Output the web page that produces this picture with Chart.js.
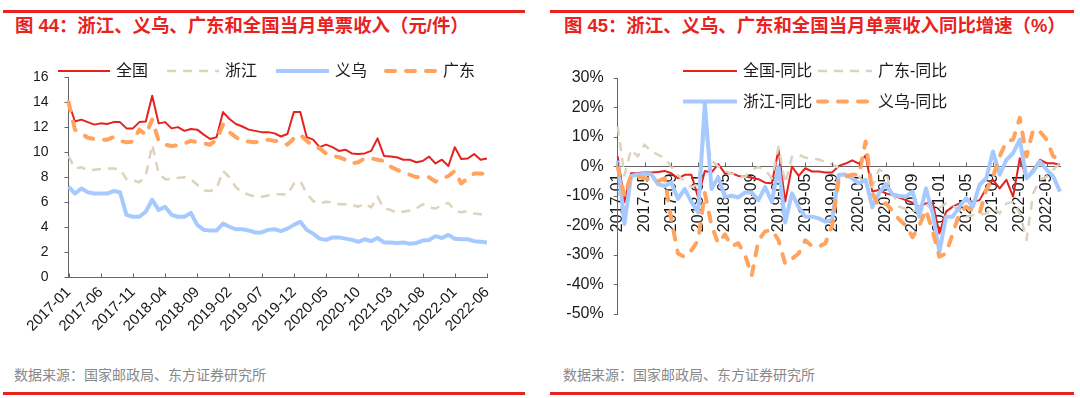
<!DOCTYPE html>
<html>
<head>
<meta charset="utf-8">
<script src="https://cdn.jsdelivr.net/npm/chart.js@4/dist/chart.umd.min.js"></script>
<style>
    html, body { margin: 0; padding: 0; background: #fff; }
    body { width: 1080px; height: 398px; position: relative; overflow: hidden;
        font-family: "Liberation Sans", "Noto Sans CJK SC", sans-serif; }
    .rule { position: absolute; height: 3px; background: #e8231f; }
    .title { position: absolute; top: 14px; line-height: 24px; font-size: 18.4px; font-weight: bold;
        color: #e8231f; white-space: nowrap; }
    .src { position: absolute; top: 365px; line-height: 20px; font-size: 14px; color: #888; white-space: nowrap; }
    canvas { position: absolute; top: 0; }
</style>
</head>
<body>
<div class="rule" style="left:3px;width:522px;top:10px"></div>
<div class="rule" style="left:3px;width:522px;top:392px"></div>
<div class="rule" style="left:550px;width:524px;top:10px"></div>
<div class="rule" style="left:550px;width:524px;top:392px"></div>
<div class="title" style="left:15px">图 44：浙江、义乌、广东和全国当月单票收入（元/件）</div>
<div class="title" style="left:564px">图 45：浙江、义乌、广东和全国当月单票收入同比增速（%）</div>
<div class="src" style="left:14px">数据来源：国家邮政局、东方证券研究所</div>
<div class="src" style="left:563px">数据来源：国家邮政局、东方证券研究所</div>
<canvas id="chartLeft" width="540" height="398" style="left:0"></canvas>
<canvas id="chartRight" width="540" height="398" style="left:540px"></canvas>
<script>
(() => {
    // months 2017-01 .. 2022-06 (left) and 2017-01 .. 2022-07 (right)
    const buildMonths = (count) => {
        const out = [];
        for (let i = 0; i < count; i++) {
            const y = 2017 + Math.floor(i / 12);
            const m = (i % 12) + 1;
            out.push(y + '-' + (m < 10 ? '0' + m : m));
        }
        return out;
    };
    const monthsLeft = buildMonths(66);
    const monthsRight = buildMonths(67);

    // 元/件
    const incomeNational = [14.0, 12.45, 12.6, 12.4, 12.2, 12.3, 12.25, 12.4, 12.4, 11.9,
        11.9, 12.4, 12.45, 14.5, 12.3, 12.4, 11.9, 12.0, 11.7, 11.85,
        11.8, 11.4, 11.05, 11.2, 13.2, 12.65, 12.25, 12.05, 11.8, 11.7,
        11.6, 11.6, 11.5, 11.25, 11.45, 13.2, 13.2, 11.2, 11.0, 10.4,
        10.6, 10.4, 10.1, 10.2, 9.9, 9.85, 9.9, 10.1, 11.1, 9.7,
        9.65, 9.6, 9.4, 9.4, 9.2, 9.3, 9.65, 9.1, 9.4, 8.9,
        10.4, 9.45, 9.5, 9.85, 9.4, 9.5];
    const incomeZhejiang = [9.7, 8.7, 8.8, 8.55, 8.6, 8.65, 8.7, 8.7, 8.65, 7.85,
        7.75, 7.6, 8.1, 10.6, 8.3, 7.85, 7.85, 7.95, 8.0, 7.85,
        7.4, 6.95, 6.9, 7.1, 8.5, 8.0, 7.2, 6.8, 6.6, 6.45,
        6.45, 6.55, 6.65, 6.65, 6.6, 7.5, 7.7, 6.7, 6.1, 5.9,
        6.05, 6.0, 5.85, 5.85, 5.8, 5.65, 5.9, 5.6, 6.45, 5.5,
        5.4, 5.15, 5.25, 5.35, 5.5, 5.85, 5.6, 5.5, 5.8, 5.95,
        5.35, 5.2, 5.3, 5.1, 5.05, 5.05];
    const incomeYiwu = [7.25, 6.7, 7.1, 6.8, 6.7, 6.7, 6.7, 6.9, 6.8, 5.0,
        4.85, 4.85, 5.25, 6.2, 5.4, 5.65, 5.0, 4.85, 4.85, 5.15,
        4.2, 3.8, 3.75, 3.75, 4.3, 4.05, 3.85, 3.85, 3.75, 3.6,
        3.6, 3.8, 3.85, 3.7, 3.9, 4.2, 4.45, 3.8, 3.5, 3.1,
        3.0, 3.2, 3.2, 3.1, 3.0, 2.85, 3.05, 2.9, 3.15, 2.8,
        2.8, 2.75, 2.8, 2.7, 2.75, 2.95, 3.0, 3.3, 3.15, 3.4,
        3.1, 3.05, 3.05, 2.9, 2.85, 2.8];
    const incomeGuangdong = [14.0, 11.8, 11.5, 11.15, 11.05, 11.0, 11.0, 11.2, 10.9, 10.8,
        10.85, 11.8, 11.4, 12.6, 10.9, 10.6, 10.5, 10.55, 10.7, 10.9,
        10.8, 10.7, 10.6, 11.0, 12.2, 11.6, 11.2, 10.9, 10.85, 10.8,
        10.85, 11.0, 10.9, 10.85, 10.6, 11.1, 11.4, 10.9, 10.5, 10.3,
        9.9, 9.7, 9.6, 9.4, 9.1, 9.2, 9.5, 9.5, 9.4, 9.3,
        8.85, 8.6, 8.4, 8.2, 8.0, 8.05, 8.0, 7.65, 7.9, 8.1,
        8.5, 7.5, 7.9, 8.3, 8.3, 8.25];

    // 同比, %
    const yoyNational = [3.4, -12.0, -2.3, -2.2, -2.0, -2.0, -1.9, -1.5, -2.3, -4.0,
        -2.8, -2.8, -10.5, -1.5, -2.0, 0.8, -2.3, -2.3, -3.2, -3.4,
        -3.8, -4.3, -5.5, -5.7, 5.7, -11.9, 0.0, -3.2, -0.6, -1.7,
        -1.7, -2.0, -2.0, 0.2, 1.0, 2.1, 1.0, 3.8, -8.5, -8.0,
        -9.1, -9.7, -10.5, -11.4, -12.3, -13.6, -12.5, -12.3, -22.7, -15.3,
        -13.6, -12.5, -11.4, -12.0, -11.4, -7.4, -4.5, -7.4, -4.5, -10.2,
        2.8, -4.0, -1.0, 2.3, 1.1, 1.1, 0.6];
    const yoyGuangdong = [13.6, -3.0, 5.7, 3.4, 7.4, 5.1, 4.0, 2.8, 0.0, -3.0,
        -5.0, -7.0, -6.0, 12.0, 2.0, 0.0, -1.5, -2.5, -3.0, -3.6,
        -1.1, -0.2, -1.1, -4.0, 6.6, -5.7, 3.3, 4.0, 3.0, 2.7,
        2.4, 1.5, 0.8, -0.5, -2.8, -3.0, -3.4, -6.0, -7.0, -1.0,
        -2.3, -9.0, -13.6, -14.5, -15.3, -13.6, -12.5, -15.0, -14.0, -12.5,
        -13.5, -14.7, -17.0, -16.5, -16.4, -15.9, -14.2, -15.9, -12.5, -12.0,
        -15.9, -24.9, -9.1, -4.5, -3.4, -1.1, 1.1];
    const yoyZhejiang = [2.0, -19.5, -3.2, -2.7, -2.5, -2.6, -6.0, -6.6, -5.4, -11.0,
        -7.6, -12.0, -15.6, 21.4, -7.6, -3.6, -10.3, -9.9, -10.5, -8.8,
        -8.8, -11.4, -7.0, -12.0, 0.0, -19.0, -9.1, -13.8, -17.0, -17.0,
        -17.6, -18.7, -18.1, -2.8, -2.8, -4.0, -5.7, -4.5, -13.8, -9.0,
        -6.0, -9.5, -10.0, -10.2, -8.5, -17.0, -7.4, -15.9, -28.9, -17.0,
        -17.0, -13.6, -10.8, -13.6, -6.2, -4.0, 5.1, -2.8, 2.3, 4.5,
        9.1, -4.0, -1.7, 1.7, -1.1, -3.4, -8.5];
    const yoyYiwu = [0.0, -10.0, -3.0, -3.5, -4.0, -4.5, -5.0, -4.0, -18.0, -29.5,
        -30.7, -28.4, -25.0, -9.0, -20.0, -26.0, -23.0, -27.0, -26.0, -30.0,
        -37.0, -25.0, -22.0, -21.5, -25.0, -33.0, -31.3, -29.5, -25.0, -27.0,
        -27.2, -26.0, -20.0, -4.0, -3.4, -2.8, -2.8, 8.5, -9.0, -13.6,
        -12.5, -15.0, -18.0, -20.0, -24.0, -20.0, -14.7, -22.0, -30.6, -29.5,
        -22.7, -15.9, -13.6, -15.0, -15.9, -8.0, -3.4, 3.4, 8.5, 9.1,
        16.5, 3.4, 12.5, 11.9, 9.1, 3.4, 2.5];

    const RED = '#e5221e';
    const BEIGE = '#ddd3bc';
    const BLUE = '#a6caff';
    const ORANGE = '#ffa35e';
    const AXIS = '#666';
    const TEXT = '#1a1a1a';

    Chart.defaults.font.family = '"Liberation Sans", "Noto Sans CJK SC", sans-serif';
    Chart.defaults.color = TEXT;

    // small tick marks pointing up from the category axis
    const insideTicks = (every, base) => ({
        id: 'insideTicks',
        afterDraw(chart) {
            const { ctx } = chart;
            const xs = chart.scales.x;
            const yPix = chart.scales.y.getPixelForValue(base);
            ctx.save();
            ctx.strokeStyle = AXIS;
            ctx.lineWidth = 1;
            chart.data.labels.forEach((lab, i) => {
                if (i % every !== 0) {
                    return;
                }
                const px = Math.round(xs.getPixelForValue(i)) + 0.5;
                ctx.beginPath();
                ctx.moveTo(px, yPix);
                ctx.lineTo(px, yPix - 4);
                ctx.stroke();
            });
            ctx.restore();
        },
    });

    // legend drawn as line samples like the original
    const lineLegend = (items, fontSize) => ({
        id: 'lineLegend',
        afterDraw(chart) {
            const { ctx } = chart;
            items.forEach((it) => {
                const ds = chart.data.datasets[it.ds];
                ctx.save();
                ctx.strokeStyle = ds.borderColor;
                ctx.lineWidth = ds.borderWidth;
                ctx.lineCap = ds.borderCapStyle || 'butt';
                ctx.setLineDash(ds.borderDash || []);
                ctx.beginPath();
                ctx.moveTo(it.x1, it.y);
                ctx.lineTo(it.x2, it.y);
                ctx.stroke();
                ctx.setLineDash([]);
                ctx.fillStyle = TEXT;
                ctx.font = fontSize + 'px "Liberation Sans", "Noto Sans CJK SC", sans-serif';
                ctx.textBaseline = 'middle';
                ctx.fillText(ds.label, it.x2 + 6, it.y + 1);
                ctx.restore();
            });
        },
    });

    const lineStyle = (color, width, dash, cap) => ({
        borderColor: color,
        backgroundColor: color,
        borderWidth: width,
        borderDash: dash,
        borderCapStyle: cap || 'butt',
        borderJoinStyle: 'round',
        pointRadius: 0,
        tension: 0,
        fill: false,
    });

    new Chart(document.getElementById('chartLeft'), {
        type: 'line',
        data: {
            labels: monthsLeft,
            datasets: [
                { label: '全国', data: incomeNational, order: 4, ...lineStyle(RED, 2, []) },
                { label: '浙江', data: incomeZhejiang, order: 3, ...lineStyle(BEIGE, 2.5, [9, 7]) },
                { label: '义乌', data: incomeYiwu, order: 2, ...lineStyle(BLUE, 4, []) },
                { label: '广东', data: incomeGuangdong, order: 1, ...lineStyle(ORANGE, 4, [9, 11], 'round') },
            ],
        },
        options: {
            responsive: false,
            animation: false,
            devicePixelRatio: 1,
            layout: { padding: { left: 0, right: 53, top: 77, bottom: 0 } },
            plugins: { legend: { display: false }, tooltip: { enabled: false } },
            scales: {
                x: {
                    grid: { display: false, drawTicks: false },
                    border: { color: AXIS, width: 1 },
                    ticks: {
                        autoSkip: false,
                        minRotation: 45,
                        maxRotation: 45,
                        padding: 6,
                        font: { size: 15 },
                        callback(v, i) { return i % 5 === 0 ? this.getLabelForValue(v) : null; },
                    },
                    afterFit(s) { s.height = 120.5; },
                },
                y: {
                    min: 0,
                    max: 16,
                    ticks: { stepSize: 2, padding: 16, font: { size: 14 } },
                    grid: { drawOnChartArea: false, tickLength: 4, color: AXIS },
                    border: { color: AXIS, width: 1 },
                    afterFit(s) { s.width = 68.5; },
                },
            },
        },
        plugins: [
            insideTicks(5, 0),
            lineLegend([
                { ds: 0, x1: 58, x2: 110, y: 71 },
                { ds: 1, x1: 167, x2: 219, y: 71 },
                { ds: 2, x1: 276, x2: 329, y: 71 },
                { ds: 3, x1: 386, x2: 437, y: 71 },
            ], 16),
        ],
    });

    new Chart(document.getElementById('chartRight'), {
        type: 'line',
        data: {
            labels: monthsRight,
            datasets: [
                { label: '全国-同比', data: yoyNational, order: 4, ...lineStyle(RED, 2, []) },
                { label: '广东-同比', data: yoyGuangdong, order: 3, ...lineStyle(BEIGE, 2.5, [9, 7]) },
                { label: '浙江-同比', data: yoyZhejiang, order: 2, ...lineStyle(BLUE, 4, []) },
                { label: '义乌-同比', data: yoyYiwu, order: 1, ...lineStyle(ORANGE, 4, [9, 11], 'round') },
            ],
        },
        options: {
            responsive: false,
            animation: false,
            devicePixelRatio: 1,
            layout: { padding: { left: 0, right: 20, top: 78, bottom: 84 } },
            plugins: { legend: { display: false }, tooltip: { enabled: false } },
            scales: {
                x: {
                    position: { y: 0 },
                    grid: { display: false, drawTicks: false },
                    border: { color: AXIS, width: 1 },
                    ticks: {
                        autoSkip: false,
                        minRotation: 90,
                        maxRotation: 90,
                        padding: 7,
                        font: { size: 16 },
                        callback(v, i) { return i % 4 === 0 ? this.getLabelForValue(v) : null; },
                    },
                },
                y: {
                    min: -50,
                    max: 30,
                    ticks: { stepSize: 10, padding: 10, font: { size: 16 }, callback: (v) => v + '%' },
                    grid: { drawOnChartArea: false, tickLength: 4, color: AXIS },
                    border: { color: AXIS, width: 1 },
                    afterFit(s) { s.width = 77.7; },
                },
            },
        },
        plugins: [
            insideTicks(4, 0),
            lineLegend([
                { ds: 0, x1: 143, x2: 197, y: 71 },
                { ds: 1, x1: 278, x2: 332, y: 71 },
                { ds: 2, x1: 143, x2: 197, y: 101.5 },
                { ds: 3, x1: 278, x2: 332, y: 101.5 },
            ], 16),
        ],
    });
})();
</script>
</body>
</html>
